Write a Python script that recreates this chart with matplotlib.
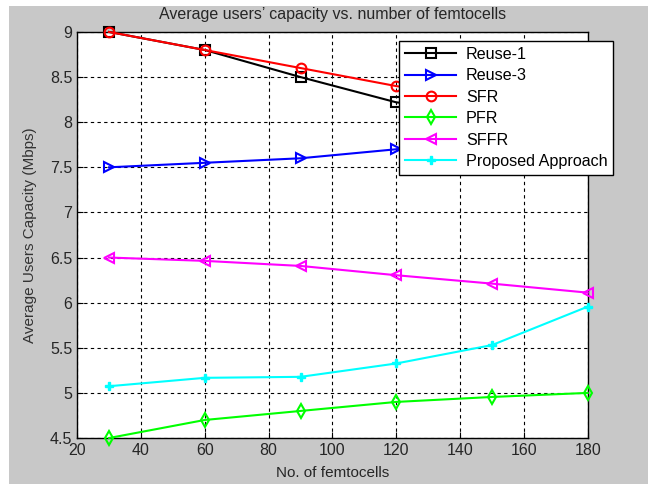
import matplotlib
matplotlib.use("Agg")
import matplotlib.pyplot as plt
from matplotlib.patches import Rectangle

femtocells = [30, 60, 90, 120, 150, 180]

reuse1 = [9.0, 8.8, 8.5, 8.22, 8.1, 8.0]
reuse3 = [7.5, 7.55, 7.6, 7.7, 7.8, 7.9]
sfr = [9.0, 8.8, 8.6, 8.4, 8.25, 8.1]
pfr = [4.5, 4.7, 4.8, 4.9, 4.955, 5.0]
sffr = [6.5, 6.463, 6.407, 6.304, 6.211, 6.111]
proposed = [5.074, 5.167, 5.178, 5.326, 5.53, 5.956]

series = [
    ("Reuse-1", reuse1, "#000000", "s"),
    ("Reuse-3", reuse3, "#0000ff", ">"),
    ("SFR", sfr, "#ff0000", "o"),
    ("PFR", pfr, "#00ff00", "d"),
    ("SFFR", sffr, "#ff00ff", "<"),
    ("Proposed Approach", proposed, "#00ffff", "P"),
]

plt.rcParams["font.family"] = ["Liberation Sans", "DejaVu Sans"]
plt.rcParams["font.size"] = 11

fig = plt.figure(figsize=(6.48, 4.84), dpi=100, facecolor="white")
# grey window area (white strip at the top and left of the screenshot)
fig.patches.append(Rectangle((9 / 648, 0), 1, 1 - 6 / 484, transform=fig.transFigure,
                             facecolor="#c8c8c8", edgecolor="none", zorder=-10))
ax = fig.add_axes([0.119, 0.095, 0.788, 0.839])

for name, vals, col, mk in series:
    if mk == "P":
        ax.plot(femtocells, vals, color=col, marker=mk, markersize=6,
                linewidth=1.5, label=name, clip_on=False, zorder=3)
    else:
        ax.plot(femtocells, vals, color=col, marker=mk, markersize=7,
                markerfacecolor="none", markeredgewidth=1.5,
                linewidth=1.5, label=name, clip_on=False, zorder=3)

ax.set_xlim(20, 180)
ax.set_ylim(4.5, 9)
ax.set_xticks(range(20, 181, 20))
ax.set_yticks([4.5, 5, 5.5, 6, 6.5, 7, 7.5, 8, 8.5, 9])
ax.set_yticklabels(["4.5", "5", "5.5", "6", "6.5", "7", "7.5", "8", "8.5", "9"])
ax.grid(True, linestyle=(0, (3, 3)), color="k", linewidth=0.8)
ax.tick_params(direction="in", length=4, labelsize=11.5, colors="k",
               labelcolor="#262626")
for s in ax.spines.values():
    s.set_linewidth(1.0)

ax.set_xlabel("No. of femtocells", fontsize=11, color="#262626", labelpad=5.5)
ax.set_ylabel("Average Users Capacity (Mbps)", fontsize=11, color="#333333", labelpad=9)
ax.set_title("Average users\u2019 capacity vs. number of femtocells", fontsize=11.5,
             color="#262626", pad=9)

leg = ax.legend(loc="upper left", bbox_to_anchor=(0.616, 0.915),
                bbox_transform=fig.transFigure, fancybox=False, framealpha=1,
                edgecolor="k", fontsize=11.6, handlelength=3.2, borderaxespad=0,
                borderpad=0.35, labelspacing=0.4, handletextpad=0.6)
leg.get_frame().set_linewidth(1.0)
leg.set_zorder(5)

plt.savefig("out.png", dpi=100, facecolor=fig.get_facecolor())
